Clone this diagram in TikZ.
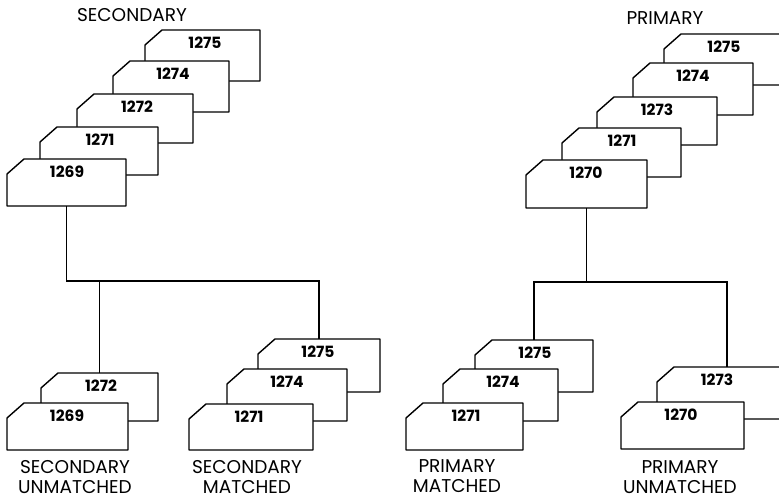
\documentclass[tikz,border=0pt]{standalone}
\usepackage{fontspec}
\setmainfont{Poppins}
\tikzset{
  cardbox/.style={inner sep=0pt, outer sep=0pt, anchor=north west},
  cardline/.style={draw=black, line width=1.4pt, fill=white, line join=round},
  num/.style={font=\fontsize{15.5}{15.5}\selectfont\bfseries, inner sep=0pt},
  conn/.style={line width=1.1pt},
  lbl/.style={font=\fontsize{18.5}{20.5}\selectfont, align=center, inner sep=0pt}
}
\newcommand{\crd}[6]{%
  \node[cardbox, minimum width=#4pt, minimum height=#5pt] (#1) at (#2,#3) {};
  \draw[cardline] ([yshift=-15pt]#1.north west) -- ([xshift=17pt]#1.north west)
     -- (#1.north east) -- (#1.south east) -- (#1.south west) -- cycle;
  \node[num] (#1n) at ([xshift=60pt,yshift=-12.5pt]#1.north west) {#6};
}
\begin{document}
\begin{tikzpicture}[x=1pt,y=-1pt]
\useasboundingbox (0,0) rectangle (779,500);
\clip (0,0) rectangle (779,500);
% titles
\node[lbl] (tsec) at (132,15) {SECONDARY};
\node[lbl] (tpri) at (665,18) {PRIMARY};
% secondary top stack
\crd{sT5}{145}{30}{115}{51}{1275}
\crd{sT4}{113}{61}{116}{51}{1274}
\crd{sT3}{77}{94}{116}{49}{1272}
\crd{sT2}{40}{127}{118}{48}{1271}
\crd{sT1}{7}{159}{119}{47}{1269}
% primary top stack
\crd{pT5}{664}{34}{130}{51}{1275}
\crd{pT4}{633}{63}{120}{52}{1274}
\crd{pT3}{597}{97}{120}{48}{1273}
\crd{pT2}{562}{128}{119}{49}{1271}
\crd{pT1}{526}{160}{121}{48}{1270}
% secondary unmatched
\crd{sU2}{41}{373}{117}{48}{1272}
\crd{sU1}{7}{403}{121}{47}{1269}
% secondary matched
\crd{sM3}{258}{339}{122}{53}{1275}
\crd{sM2}{227}{369}{120}{52}{1274}
\crd{sM1}{189}{404}{124}{46}{1271}
% primary matched
\crd{pM3}{475}{340}{118}{52}{1275}
\crd{pM2}{443}{369}{115}{52}{1274}
\crd{pM1}{406}{403}{117}{47}{1271}
% primary unmatched
\crd{pU2}{657}{367}{140}{52}{1273}
\crd{pU1}{621}{402}{123}{47}{1270}
% connectors
\coordinate (sj) at (0,281);
\coordinate (pj) at (0,282);
\draw[conn] (sT1.south) -- (sT1.south |- sj) -- (sj -| sM3.north) -- (sM3.north);
\draw[conn] (sU2.north) -- (sU2.north |- sj);
\draw[conn] (pT1.south) -- (pT1.south |- pj);
\draw[conn] (pM3.north) -- (pM3.north |- pj) -- (pj -| pU2.north) -- (pU2.north);
% labels
\node[lbl] (lsu) at (75,477) {SECONDARY\\UNMATCHED};
\node[lbl] (lsm) at (247,477) {SECONDARY\\MATCHED};
\node[lbl] (lpm) at (457,476) {PRIMARY\\MATCHED};
\node[lbl] (lpu) at (680,477) {PRIMARY\\UNMATCHED};
\end{tikzpicture}
\end{document}
